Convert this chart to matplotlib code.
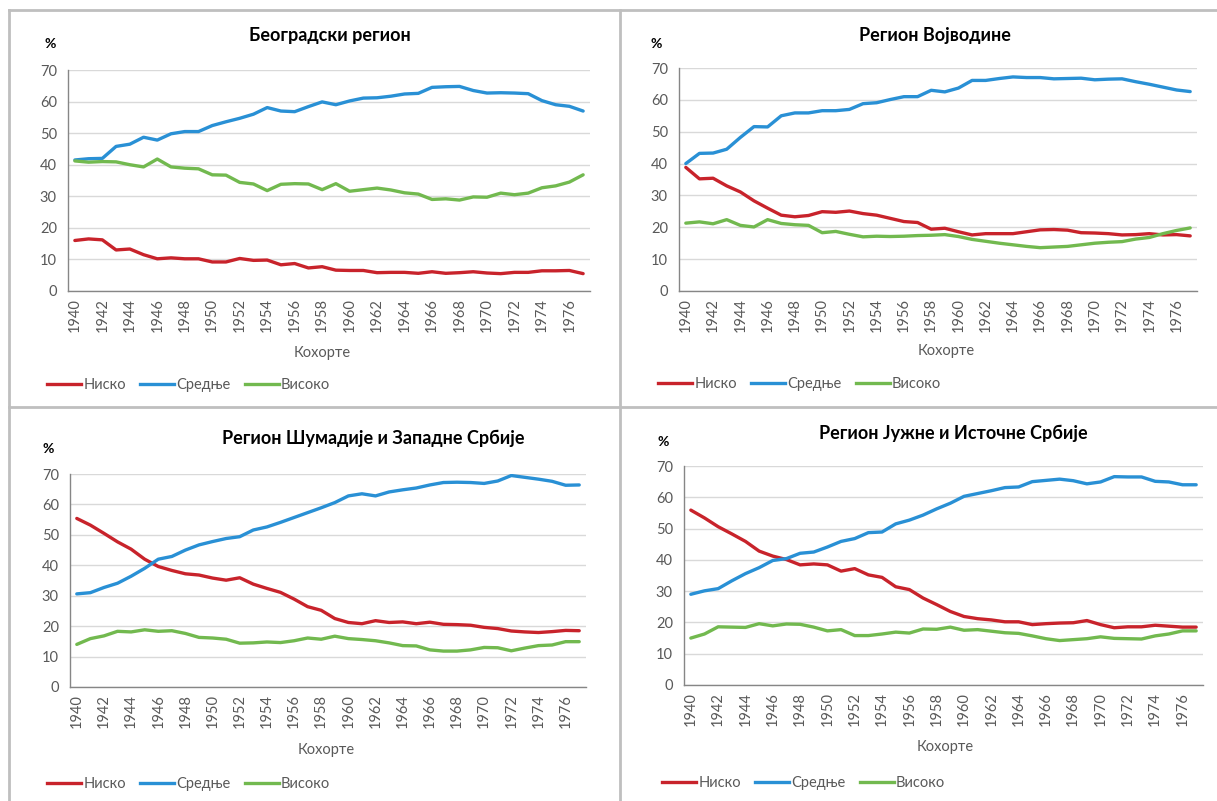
import numpy as np
import matplotlib.pyplot as plt
from matplotlib.lines import Line2D

plt.rcParams['font.family'] = ['Lato', 'Noto Sans', 'DejaVu Sans']

# cohorts 1940-1977
years = list(range(1940, 1978))
series_names = ['Ниско', 'Средње', 'Високо']

# Београдски регион
beograd_nisko = [16.0, 16.5, 16.2, 13.0, 13.3, 11.5, 10.2, 10.5, 10.2, 10.2, 9.2, 9.2, 10.3, 9.7,
                 9.8, 8.3, 8.7, 7.3, 7.7, 6.6, 6.5, 6.5, 5.8, 5.9, 5.9, 5.6, 6.1, 5.6, 5.8, 6.1,
                 5.7, 5.5, 5.9, 5.9, 6.4, 6.4, 6.5, 5.5]
beograd_srednje = [41.5, 41.9, 42.0, 45.8, 46.5, 48.7, 47.8, 49.8, 50.5, 50.5, 52.4, 53.6, 54.7,
                   56.0, 58.1, 57.0, 56.8, 58.4, 59.9, 59.0, 60.2, 61.1, 61.2, 61.7, 62.4, 62.6,
                   64.5, 64.7, 64.8, 63.5, 62.7, 62.8, 62.7, 62.5, 60.3, 59.0, 58.5, 57.0]
beograd_visoko = [41.2, 40.8, 41.0, 40.9, 40.0, 39.3, 41.8, 39.3, 38.9, 38.7, 36.8, 36.7, 34.4,
                  33.9, 31.8, 33.8, 34.0, 33.9, 32.1, 34.0, 31.6, 32.1, 32.6, 32.0, 31.1, 30.7,
                  29.0, 29.2, 28.8, 29.8, 29.7, 31.0, 30.5, 31.0, 32.7, 33.3, 34.5, 36.8]

# Регион Војводине
vojvodina_nisko = [38.8, 35.2, 35.4, 33.0, 31.1, 28.3, 26.0, 23.8, 23.3, 23.7, 24.9, 24.7, 25.1,
                   24.3, 23.8, 22.8, 21.8, 21.5, 19.4, 19.7, 18.6, 17.6, 18.0, 18.0, 18.0, 18.6,
                   19.2, 19.3, 19.1, 18.3, 18.2, 18.0, 17.6, 17.7, 18.0, 17.6, 17.7, 17.3]
vojvodina_srednje = [40.0, 43.2, 43.3, 44.5, 48.2, 51.6, 51.5, 55.0, 55.9, 55.9, 56.6, 56.6, 57.0,
                     58.8, 59.1, 60.1, 61.0, 61.0, 63.0, 62.5, 63.7, 66.1, 66.1, 66.7, 67.2, 67.0,
                     67.0, 66.6, 66.7, 66.8, 66.3, 66.5, 66.6, 65.7, 64.9, 64.0, 63.1, 62.6]
vojvodina_visoko = [21.3, 21.7, 21.1, 22.4, 20.6, 20.1, 22.4, 21.2, 20.8, 20.6, 18.3, 18.7, 17.8,
                    17.0, 17.2, 17.1, 17.2, 17.4, 17.5, 17.7, 17.1, 16.2, 15.6, 15.0, 14.5, 14.0,
                    13.6, 13.8, 14.0, 14.5, 15.0, 15.3, 15.5, 16.3, 16.8, 18.0, 19.0, 19.8]

# Регион Шумадије и Западне Србије
sumadija_nisko = [55.4, 53.2, 50.5, 47.7, 45.3, 42.0, 39.6, 38.3, 37.2, 36.8, 35.8, 35.1, 35.9,
                  33.8, 32.4, 31.1, 28.9, 26.4, 25.2, 22.5, 21.2, 20.8, 21.8, 21.2, 21.4, 20.8,
                  21.3, 20.6, 20.5, 20.3, 19.6, 19.2, 18.4, 18.1, 17.9, 18.2, 18.6, 18.5]
sumadija_srednje = [30.6, 31.0, 32.7, 34.1, 36.4, 39.0, 42.0, 42.9, 45.0, 46.7, 47.8, 48.8, 49.4,
                    51.6, 52.6, 54.1, 55.7, 57.3, 58.9, 60.6, 62.8, 63.5, 62.8, 64.1, 64.8, 65.4,
                    66.4, 67.2, 67.3, 67.2, 66.9, 67.7, 69.5, 68.9, 68.3, 67.6, 66.3, 66.4]
sumadija_visoko = [14.0, 15.9, 16.8, 18.3, 18.1, 18.8, 18.3, 18.5, 17.6, 16.3, 16.1, 15.7, 14.4,
                   14.5, 14.8, 14.6, 15.2, 16.1, 15.7, 16.7, 15.9, 15.6, 15.2, 14.5, 13.6, 13.5,
                   12.2, 11.8, 11.8, 12.2, 13.0, 12.9, 11.9, 12.8, 13.6, 13.8, 14.9, 14.9]

# Регион Јужне и Источне Србије
jug_nisko = [55.9, 53.4, 50.6, 48.3, 45.9, 42.8, 41.2, 40.1, 38.4, 38.7, 38.4, 36.4, 37.2, 35.2,
             34.4, 31.4, 30.5, 27.8, 25.7, 23.5, 21.9, 21.2, 20.8, 20.2, 20.2, 19.3, 19.6, 19.8,
             19.9, 20.6, 19.3, 18.3, 18.6, 18.6, 19.1, 18.8, 18.5, 18.5]
jug_srednje = [29.0, 30.1, 30.8, 33.3, 35.6, 37.5, 39.8, 40.4, 42.1, 42.5, 44.1, 45.9, 46.8, 48.7,
               48.9, 51.5, 52.7, 54.3, 56.3, 58.1, 60.3, 61.2, 62.1, 63.1, 63.3, 65.0, 65.4, 65.8,
               65.3, 64.3, 64.9, 66.6, 66.5, 66.5, 65.1, 64.9, 64.0, 64.0]
jug_visoko = [15.0, 16.3, 18.6, 18.5, 18.4, 19.6, 18.9, 19.5, 19.4, 18.5, 17.3, 17.7, 15.8, 15.8,
              16.3, 16.9, 16.6, 17.9, 17.8, 18.5, 17.5, 17.7, 17.2, 16.7, 16.5, 15.7, 14.8, 14.2,
              14.5, 14.8, 15.4, 14.9, 14.8, 14.7, 15.7, 16.3, 17.3, 17.3]

colors = ['#c8232b', '#2990d5', '#72b94f']
tick_color = '#595959'

fig = plt.figure(figsize=(12.17, 8.01), dpi=100)

# panel layout: axes rect, title pos, "%" pos, xlabel pos, legend pos (figure px)
panels = [
    ('Београдски регион', [beograd_nisko, beograd_srednje, beograd_visoko],
     (68, 70, 590, 291), (330, 35), (50, 44), (322, 353), (47, 385)),
    ('Регион Војводине', [vojvodina_nisko, vojvodina_srednje, vojvodina_visoko],
     (679, 68, 1197, 291), (935, 35), (656, 44), (946, 351), (658, 384)),
    ('Регион Шумадије и Западне Србије', [sumadija_nisko, sumadija_srednje, sumadija_visoko],
     (70, 474, 586, 687), (373, 438), (48, 449), (326, 750), (47, 784)),
    ('Регион Јужне и Источне Србије', [jug_nisko, jug_srednje, jug_visoko],
     (684, 466, 1203, 685), (953, 433), (663, 442), (945, 747), (662, 783)),
]

W, H = 1217, 801
for title, data, (x0, y0, x1, y1), tpos, ppos, xlpos, lpos in panels:
    ax = fig.add_axes([x0 / W, 1 - y1 / H, (x1 - x0) / W, (y1 - y0) / H])
    for vals, c, name in zip(data, colors, series_names):
        ax.plot(years, vals, color=c, lw=2.4, label=name, solid_capstyle='round')
    ax.set_xlim(1939.5, 1977.5)
    ax.set_ylim(0, 70)
    ax.set_yticks(range(0, 71, 10))
    ax.set_xticks(range(1940, 1977, 2))
    ax.tick_params(axis='x', rotation=90, length=0, labelsize=10.5, colors=tick_color, pad=5)
    ax.tick_params(axis='y', length=0, labelsize=10.5, colors=tick_color, pad=8)
    ax.grid(axis='y', color='#d9d9d9', lw=1)
    ax.set_axisbelow(True)
    for s in ['top', 'right']:
        ax.spines[s].set_visible(False)
    for s in ['left', 'bottom']:
        ax.spines[s].set_color('#868686')
        ax.spines[s].set_linewidth(1)

    fig.text(tpos[0] / W, 1 - tpos[1] / H, title, ha='center', va='center',
             fontsize=13, fontweight='bold', color='black')
    fig.text(ppos[0] / W, 1 - ppos[1] / H, '%', ha='center', va='center',
             fontsize=10, fontweight='bold', color='black')
    fig.text(xlpos[0] / W, 1 - xlpos[1] / H, 'Кохорте', ha='center', va='center',
             fontsize=10.5, color=tick_color)

    handles = [Line2D([], [], color=c, lw=2.4) for c in colors]
    fig.legend(handles, series_names, loc='center left', ncol=3, frameon=False,
               bbox_to_anchor=(lpos[0] / W, 1 - lpos[1] / H), borderaxespad=0, borderpad=0,
               handlelength=2.35, handletextpad=0.15, columnspacing=0.95,
               fontsize=10.5, labelcolor=tick_color)

# chart frame separators
sep = dict(color='#bfbfbf', lw=2)
fig.add_artist(Line2D([9 / W, 1], [1 - 10 / H, 1 - 10 / H], **sep))
fig.add_artist(Line2D([9 / W, 9 / W], [0, 1 - 10 / H], **sep))
fig.add_artist(Line2D([620 / W, 620 / W], [0, 1 - 10 / H], **sep))
fig.add_artist(Line2D([9 / W, 1], [1 - 407 / H, 1 - 407 / H], **sep))

fig.savefig('out.png', dpi=100)
